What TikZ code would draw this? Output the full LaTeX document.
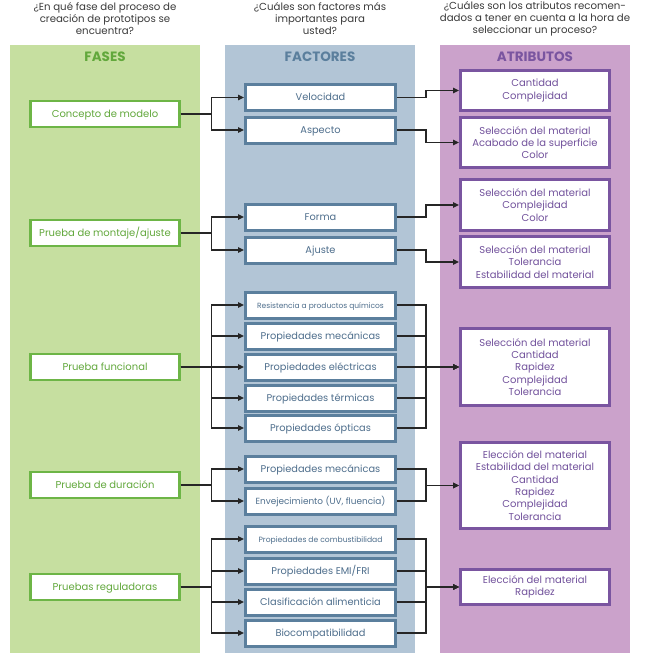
\documentclass[tikz,border=0pt]{standalone}
\usepackage{fontspec}
\setmainfont{Poppins}
\usetikzlibrary{arrows.meta}

\definecolor{fasebg}{HTML}{C6DFA0}
\definecolor{faseline}{HTML}{6DB546}
\definecolor{fasetext}{HTML}{62A83C}
\definecolor{factorbg}{HTML}{B2C5D6}
\definecolor{factorline}{HTML}{5B7F9D}
\definecolor{factortext}{HTML}{4E6E8C}
\definecolor{atribbg}{HTML}{CBA2CB}
\definecolor{atribline}{HTML}{7A55A0}
\definecolor{atribtext}{HTML}{72529C}
\definecolor{pregtext}{HTML}{3A3A3A}

\tikzset{
  fase/.style={draw=faseline, line width=2.5pt, fill=white, text=fasetext,
    minimum width=149pt, minimum height=26pt, inner sep=0pt,
    text height=7pt, text depth=1pt,
    font=\fontsize{10}{12}\selectfont},
  factor/.style={draw=factorline, line width=3pt, fill=white, text=factortext,
    minimum width=150pt, minimum height=26pt, inner sep=0pt,
    text height=7pt, text depth=1pt,
    font=\fontsize{9.8}{12}\selectfont},
  atrib/.style={draw=atribline, line width=3pt, fill=white, text=atribtext,
    align=center, minimum width=149pt, inner sep=0pt,
    font=\fontsize{10}{12.3}\selectfont},
  pregunta/.style={align=center, text=pregtext, font=\fontsize{10.2}{12}\selectfont},
  cabecera/.style={font=\fontsize{13.5}{15}\selectfont\bfseries},
  flecha/.style={line width=1.3pt, draw=black!85,
    -{Triangle[length=6pt,width=5.5pt]}},
}

\begin{document}
\begin{tikzpicture}[x=1pt,y=-1pt]
  \useasboundingbox (0,0) rectangle (645,653);

  % Columns
  \fill[fasebg] (10,45) rectangle (200,653);
  \fill[factorbg] (225,45) rectangle (415,653);
  \fill[atribbg] (440,45) rectangle (630,653);

  % Questions
  \node[pregunta] (q1) at (105,19) {¿En qué fase del proceso de\\creación de prototipos se\\encuentra?};
  \node[pregunta] (q2) at (320,19) {¿Cuáles son factores más\\importantes para\\usted?};
  \node[pregunta] (q3) at (535,19) {¿Cuáles son los atributos recomen-\\dados a tener en cuenta a la hora de\\seleccionar un proceso?};

  % Headers
  \node[cabecera, text=fasetext] (h1) at (105,57) {FASES};
  \node[cabecera, text=factorline] (h2) at (320,57) {FACTORES};
  \node[cabecera, text=atribline] (h3) at (535,57) {ATRIBUTOS};

  % Phases
  \node[fase] (concepto) at (105,114) {Concepto de modelo};
  \node[fase] (montaje) at (105,233) {Prueba de montaje/ajuste};
  \node[fase] (funcional) at (105,367) {Prueba funcional};
  \node[fase] (duracion) at (105,485) {Prueba de duración};
  \node[fase] (reguladoras) at (105,587) {Pruebas reguladoras};

  % Factors
  \node[factor] (velocidad) at (320.5,97.5) {Velocidad};
  \node[factor] (aspecto) at (320.5,130) {Aspecto};
  \node[factor] (forma) at (320.5,217) {Forma};
  \node[factor] (ajuste) at (320.5,250) {Ajuste};
  \node[factor, font=\fontsize{7.5}{9}\selectfont] (quimicos) at (320.5,305) {Resistencia a productos químicos};
  \node[factor] (mecanicas) at (320.5,336) {Propiedades mecánicas};
  \node[factor] (electricas) at (320.5,367) {Propiedades eléctricas};
  \node[factor] (termicas) at (320.5,398) {Propiedades térmicas};
  \node[factor] (opticas) at (320.5,428) {Propiedades ópticas};
  \node[factor] (mecanicasb) at (320.5,469) {Propiedades mecánicas};
  \node[factor, font=\fontsize{8.9}{10}\selectfont] (envejecimiento) at (320.5,501) {Envejecimiento (UV, fluencia)};
  \node[factor, font=\fontsize{7.6}{9}\selectfont] (combustion) at (320.5,539) {Propiedades de combustibilidad};
  \node[factor] (emi) at (320.5,571) {Propiedades EMI/FRI};
  \node[factor] (alimenticia) at (320.5,602) {Clasificación alimenticia};
  \node[factor] (biocomp) at (320.5,633) {Biocompatibilidad};

  % Attributes
  \node[atrib, minimum height=40pt] (atr1) at (535,90.5) {Cantidad\\Complejidad};
  \node[atrib, minimum height=50pt] (atr2) at (535,142.5) {Selección del material\\Acabado de la superficie\\Color};
  \node[atrib, minimum height=51pt] (atr3) at (535,205) {Selección del material\\Complejidad\\Color};
  \node[atrib, minimum height=51pt] (atr4) at (535,262) {Selección del material\\Tolerancia\\Estabilidad del material};
  \node[atrib, minimum height=77pt] (atr5) at (535,367) {Selección del material\\Cantidad\\Rapidez\\Complejidad\\Tolerancia};
  \node[atrib, minimum height=86pt] (atr6) at (535,485.5) {Elección del material\\Estabilidad del material\\Cantidad\\Rapidez\\Complejidad\\Tolerancia};
  \node[atrib, minimum height=35pt] (atr7) at (535,587) {Elección del material\\Rapidez};

  % Phase to factors
  \foreach \f in {velocidad,aspecto}
    \draw[flecha] (concepto.east) -- ++(31,0) |- (\f.west);
  \foreach \f in {forma,ajuste}
    \draw[flecha] (montaje.east) -- ++(31,0) |- (\f.west);
  \foreach \f in {quimicos,mecanicas,electricas,termicas,opticas}
    \draw[flecha] (funcional.east) -- ++(31,0) |- (\f.west);
  \foreach \f in {mecanicasb,envejecimiento}
    \draw[flecha] (duracion.east) -- ++(31,0) |- (\f.west);
  \foreach \f in {combustion,emi,alimenticia,biocomp}
    \draw[flecha] (reguladoras.east) -- ++(31,0) |- (\f.west);

  % Factors to attributes
  \draw[flecha] (velocidad.east) -- ++(29,0) |- (atr1.west);
  \draw[flecha] (aspecto.east) -- ++(29,0) |- (atr2.west);
  \draw[flecha] (forma.east) -- ++(29,0) |- (atr3.west);
  \draw[flecha] (ajuste.east) -- ++(29,0) |- (atr4.west);
  \foreach \f in {quimicos,mecanicas,electricas,termicas,opticas}
    \draw[flecha] (\f.east) -- ++(29,0) |- (atr5.west);
  \foreach \f in {mecanicasb,envejecimiento}
    \draw[flecha] (\f.east) -- ++(29,0) |- (atr6.west);
  \foreach \f in {combustion,emi,alimenticia,biocomp}
    \draw[flecha] (\f.east) -- ++(29,0) |- (atr7.west);
\end{tikzpicture}
\end{document}
